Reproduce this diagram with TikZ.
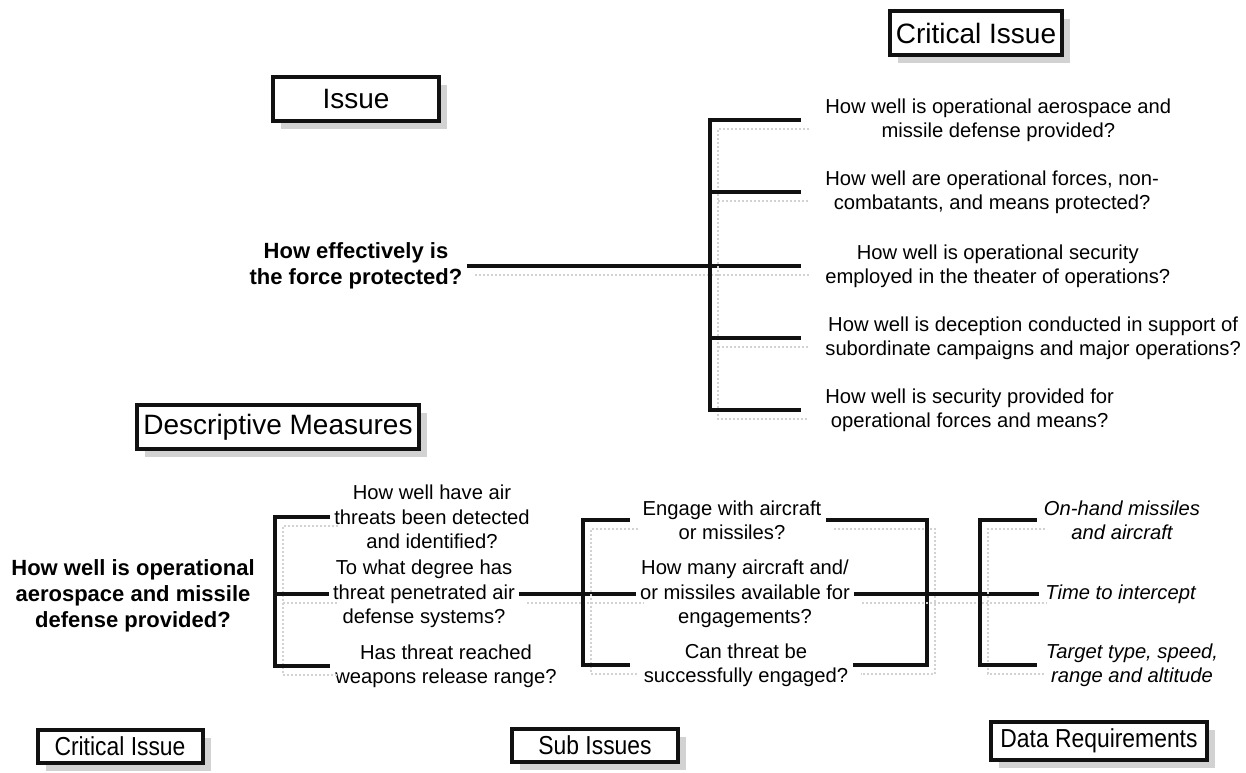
\documentclass[tikz,border=0pt]{standalone}
\usepackage{fontspec}
\setmainfont{Liberation Sans}
\newfontfamily\narrowsf[FakeStretch=0.88]{Liberation Sans}
\usetikzlibrary{shadows}
\definecolor{fpink}{HTML}{111111}
\definecolor{fpshade}{HTML}{D2D2D2}

\begin{document}
\begin{tikzpicture}[
  x=.5pt,y=-.5pt,
  font=\fontsize{10.1}{12.2}\selectfont,
  titlebox/.style={draw=fpink,line width=2pt,fill=white,inner xsep=3pt,
    minimum height=22pt,font=\fontsize{14}{16}\selectfont,
    drop shadow={shadow xshift=4pt,shadow yshift=-4pt,fill=fpshade,opacity=1}},
  keybox/.style={titlebox,inner xsep=4.5pt,minimum height=16.5pt,
    font=\narrowsf\fontsize{13}{15}\selectfont},
  question/.style={align=center,inner sep=2pt},
  lead/.style={align=center,inner sep=2pt,font=\bfseries\fontsize{11}{13}\selectfont},
  datum/.style={align=center,inner sep=2pt,font=\itshape\fontsize{10.1}{12.2}\selectfont},
  tree/.style={draw=fpink,line width=2pt,
    preaction={draw=fpshade,line width=1pt,densely dotted,
      transform canvas={xshift=4pt,yshift=-4.5pt}}}
]
  \path[use as bounding box] (0,0) rectangle (1246,772);

  \node[titlebox] (citop) at (976,33) {Critical Issue};
  \node[titlebox,minimum width=83pt] (issue) at (356,99) {Issue};
  \node[titlebox] (dm) at (278,427) {Descriptive Measures};

  \node[lead] (fp) at (356,266) {How effectively is\\the force protected?};
  \foreach \y/\n/\txt in {
      120/q1/{How well is operational aerospace and\\missile defense provided?},
      192/q2/{How well are operational forces, non-\\combatants, and means protected?},
      266/q3/{How well is operational security\\employed in the theater of operations?},
      338/q4/{How well is deception conducted in support of\\subordinate campaigns and major operations?},
      410/q5/{How well is security provided for\\operational forces and means?}}{
    \node[question,anchor=west] (\n) at (821,\y) {\txt};
  }
  \coordinate (sp) at (710,266);
  \draw[tree] (fp.east) -- ([xshift=-10pt]q3.west);
  \draw[tree] ([xshift=-10pt]q1.west) -| (sp) |- ([xshift=-10pt]q5.west);
  \draw[tree] (sp |- q2.west) -- ([xshift=-10pt]q2.west);
  \draw[tree] (sp |- q4.west) -- ([xshift=-10pt]q4.west);

  \node[lead] (aq) at (133,596) {How well is operational\\aerospace and missile\\defense provided?};
  \node[question] (d1) at (432,517) {How well have air\\threats been detected\\and identified?};
  \node[question] (d2) at (424,594) {To what degree has\\threat penetrated air\\defense systems?};
  \node[question] (d3) at (446,666) {Has threat reached\\weapons release range?};
  \node[question] (s1) at (732,520) {Engage with aircraft\\or missiles?};
  \node[question] (s2) at (745,594) {How many aircraft and/\\or missiles available for\\engagements?};
  \node[question] (s3) at (746,665) {Can threat be\\successfully engaged?};
  \node[datum] (r1) at (1122,520) {On-hand missiles\\and aircraft};
  \node[datum,anchor=west,inner sep=3pt] (r2) at (1039,594) {Time to intercept};
  \node[datum] (r3) at (1132,665) {Target type, speed,\\range and altitude};

  \coordinate (b1) at (275,594);
  \coordinate (b2) at (583,594);
  \coordinate (b3) at (927,594);
  \coordinate (b4) at (980,594);
  \draw[tree] (b1 |- d1) ++(55,0) -- ++(-55,0) -- (b1 |- d3) -- ++(55,0);
  \draw[tree] (b1) -- (d2.west);
  \draw[tree] (d2.east) -- (s2.west);
  \draw[tree] (b2 |- s1) ++(47,0) -- ++(-47,0) -- (b2 |- s3) -- ++(47,0);
  \draw[tree] (s1.east) -| (b3) |- (s3.east);
  \draw[tree] (s2.east) -- (r2.west);
  \draw[tree] (b4 |- r1) ++(57,0) -- ++(-57,0) -- (b4 |- r3) -- ++(57,0);

  \node[keybox,minimum width=82.5pt] (kci) at (120,746) {Critical Issue};
  \node[keybox,minimum width=83pt] (ksi) at (595,745) {Sub Issues};
  \node[keybox] (kdr) at (1099,741) {Data Requirements};
\end{tikzpicture}
\end{document}
